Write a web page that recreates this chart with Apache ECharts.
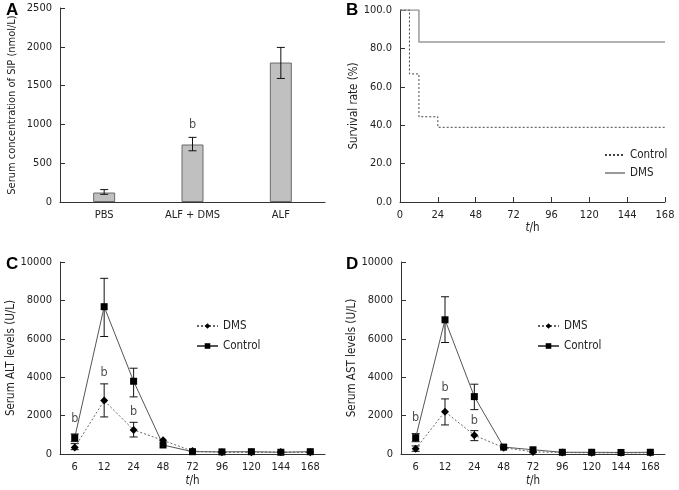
<!DOCTYPE html>
<html><head><meta charset="utf-8">
<script src="https://cdn.jsdelivr.net/npm/echarts@6/dist/echarts.min.js"></script>
<style>html,body{margin:0;padding:0;background:#fff}#c{width:679px;height:490px}</style>
</head><body><div id="c"></div>
<script>
// ---- Panel A data ----
const aCategories = ['PBS', 'ALF + DMS', 'ALF'];
const aValues = [122, 741, 1797];
const aErrLow = [99, 660, 1592];
const aErrHigh = [160, 833, 1992];
const aSigLabelPos = [[1, 990]];
// ---- Panel B data (Kaplan-Meier steps) ----
const bTicks = [0, 24, 48, 72, 96, 120, 144, 168];
const bControl = [[0, 100], [6, 66.7], [12, 44.4], [24, 38.9], [168, 38.9]];
const bDMS = [[0, 100], [12, 83.3], [168, 83.3]];
// ---- Panel C/D shared ----
const timeCats = ['6', '12', '24', '48', '72', '96', '120', '144', '168'];
// ---- Panel C (ALT) ----
const altDMS = [345, 2782, 1252, 710, 150, 90, 90, 100, 90];
const altDMSLow = [225, 1931, 887, null, null, null, null, null, null];
const altDMSHigh = [540, 3653, 1650, null, null, null, null, null, null];
const altCtrl = [850, 7672, 3789, 470, 120, 110, 120, 90, 120];
const altCtrlLow = [645, 6120, 2975, null, null, null, null, null, null];
const altCtrlHigh = [1044, 9150, 4468, null, null, null, null, null, null];
const altSigPos = [[0, 1842], [1, 4227], [2, 2223]];
// ---- Panel D (AST) ----
const astDMS = [277, 2207, 976, 330, 110, 80, 60, 60, 60];
const astDMSLow = [140, 1513, 695, null, null, null, null, null, null];
const astDMSHigh = [420, 2869, 1217, null, null, null, null, null, null];
const astCtrl = [850, 6990, 2989, 360, 220, 90, 90, 80, 90];
const astCtrlLow = [640, 5806, 2311, null, null, null, null, null, null];
const astCtrlHigh = [1060, 8190, 3636, null, null, null, null, null, null];
const astSigPos = [[0, 1862], [1, 3427], [2, 1737]];

const FONT = '"DejaVu Sans Condensed", "DejaVu Sans", sans-serif';
const TXT = '#222';
const AX = '#333';

function errData(low, high) {
  const out = [];
  for (let i = 0; i < low.length; i++) if (low[i] != null) out.push([i, low[i], high[i]]);
  return out;
}
function errRender(params, api) {
  const x = api.value(0);
  const p1 = api.coord([x, api.value(2)]);
  const p2 = api.coord([x, api.value(1)]);
  const w = 4;
  const st = { stroke: '#111', lineWidth: 1 };
  return { type: 'group', children: [
    { type: 'line', shape: { x1: p1[0], y1: p1[1], x2: p2[0], y2: p2[1] }, style: st },
    { type: 'line', shape: { x1: p1[0] - w, y1: p1[1], x2: p1[0] + w, y2: p1[1] }, style: st },
    { type: 'line', shape: { x1: p2[0] - w, y1: p2[1], x2: p2[0] + w, y2: p2[1] }, style: st }
  ]};
}
function errSeries(idx, low, high, z) {
  return { type: 'custom', xAxisIndex: idx, yAxisIndex: idx, renderItem: errRender,
    encode: { x: 0, y: [1, 2] }, data: errData(low, high), z: z || 3, silent: true };
}
function sigSeries(idx, pos) {
  return { type: 'scatter', xAxisIndex: idx, yAxisIndex: idx, symbolSize: 0, data: pos, silent: true,
    label: { show: true, position: 'inside', formatter: 'b', color: TXT, fontFamily: FONT, fontSize: 12.5 } };
}
const plain = v => String(v);
const axLine = { lineStyle: { color: AX, width: 1 } };
const axTick = { inside: true, length: 5, lineStyle: { color: AX } };
const axLabel = { color: TXT, fontFamily: FONT, fontSize: 11 };
const numLabel = Object.assign({ formatter: plain }, axLabel);
const nameStyle = { color: TXT, fontFamily: FONT, fontSize: 11.5 };
const nameStyleA = { color: TXT, fontFamily: FONT, fontSize: 11 };
const tName = '{i|t}/h';
const tNameStyle = { color: TXT, fontFamily: FONT, fontSize: 11.5, rich: { i: { fontStyle: 'italic', color: TXT, fontFamily: FONT, fontSize: 11.5 } } };

const chart = echarts.init(document.getElementById('c'), null, { renderer: 'canvas' });
const titleStyle = { fontFamily: '"Liberation Sans", Arial, sans-serif', fontSize: 17, fontWeight: 'bold', color: '#000' };
const legText = { color: TXT, fontFamily: FONT, fontSize: 11.5 };
chart.setOption({
  animation: false,
  backgroundColor: '#fff',
  title: [
    { text: 'A', left: 6, top: 2, textStyle: titleStyle, padding: 0 },
    { text: 'B', left: 346, top: 2, textStyle: titleStyle, padding: 0 },
    { text: 'C', left: 6, top: 256, textStyle: titleStyle, padding: 0 },
    { text: 'D', left: 346, top: 256, textStyle: titleStyle, padding: 0 }
  ],
  grid: [
    { left: 60, top: 8, width: 265, height: 194 },
    { left: 400, top: 10, width: 265, height: 192 },
    { left: 60, top: 262, width: 265, height: 192 },
    { left: 401, top: 262, width: 264, height: 192 }
  ],
  legend: [
    { data: ['B-Control', 'B-DMS'], orient: 'vertical', left: 604, top: 149, itemWidth: 20, itemHeight: 10, itemGap: 6,
      itemStyle: { opacity: 0 }, formatter: n => n.replace('B-', ''), textStyle: legText, padding: 0 },
    { data: ['DMS', 'Control'], orient: 'vertical', left: 196, top: 320, itemWidth: 21, itemHeight: 7, itemGap: 8,
      textStyle: legText, padding: 0 },
    { data: ['DMS', 'Control'], orient: 'vertical', left: 537, top: 320, itemWidth: 21, itemHeight: 7, itemGap: 8,
      textStyle: legText, padding: 0 }
  ],
  xAxis: [
    { gridIndex: 0, type: 'category', data: aCategories, axisLine: axLine, axisTick: axTick, axisLabel: axLabel },
    { gridIndex: 1, type: 'value', min: 0, max: 168, interval: 24, axisLine: axLine, axisTick: axTick,
      axisLabel: Object.assign({ customValues: bTicks }, numLabel), splitLine: { show: false },
      name: tName, nameLocation: 'middle', nameGap: 15, nameTextStyle: tNameStyle },
    { gridIndex: 2, type: 'category', data: timeCats, axisLine: axLine, axisTick: axTick, axisLabel: axLabel,
      name: tName, nameLocation: 'middle', nameGap: 21, nameTextStyle: tNameStyle },
    { gridIndex: 3, type: 'category', data: timeCats, axisLine: axLine, axisTick: axTick, axisLabel: axLabel,
      name: tName, nameLocation: 'middle', nameGap: 21, nameTextStyle: tNameStyle }
  ],
  yAxis: [
    { gridIndex: 0, type: 'value', min: 0, max: 2500, interval: 500, axisLine: { show: true, lineStyle: { color: AX } },
      axisTick: Object.assign({ show: true }, axTick), axisLabel: numLabel, splitLine: { show: false },
      name: 'Serum concentration of SIP (nmol/L)', nameLocation: 'middle', nameGap: 42, nameTextStyle: nameStyleA },
    { gridIndex: 1, type: 'value', min: 0, max: 100, interval: 20, axisLine: { show: true, lineStyle: { color: AX } },
      axisTick: Object.assign({ show: true }, axTick), axisLabel: Object.assign({}, axLabel, { formatter: v => v.toFixed(1) }),
      splitLine: { show: false }, name: 'Survival rate (%)', nameLocation: 'middle', nameGap: 38, nameTextStyle: nameStyle },
    { gridIndex: 2, type: 'value', min: 0, max: 10000, interval: 2000, axisLine: { show: true, lineStyle: { color: AX } },
      axisTick: Object.assign({ show: true }, axTick), axisLabel: numLabel, splitLine: { show: false },
      name: 'Serum ALT levels (U/L)', nameLocation: 'middle', nameGap: 42, nameTextStyle: nameStyle },
    { gridIndex: 3, type: 'value', min: 0, max: 10000, interval: 2000, axisLine: { show: true, lineStyle: { color: AX } },
      axisTick: Object.assign({ show: true }, axTick), axisLabel: numLabel, splitLine: { show: false },
      name: 'Serum AST levels (U/L)', nameLocation: 'middle', nameGap: 42, nameTextStyle: nameStyle }
  ],
  series: [
    // Panel A
    { type: 'bar', xAxisIndex: 0, yAxisIndex: 0, data: aValues, barWidth: 22,
      itemStyle: { color: '#c0c0c0', borderColor: '#6a6a6a', borderWidth: 1 }, silent: true },
    errSeries(0, aErrLow, aErrHigh, 4),
    sigSeries(0, aSigLabelPos),
    // Panel B
    { name: 'B-DMS', type: 'line', xAxisIndex: 1, yAxisIndex: 1, step: 'end', data: bDMS, symbol: 'none',
      lineStyle: { color: '#999', width: 1.5 }, itemStyle: { color: '#999' }, z: 2 },
    { name: 'B-Control', type: 'line', xAxisIndex: 1, yAxisIndex: 1, step: 'end', data: bControl, symbol: 'none',
      lineStyle: { color: '#444', width: 1, type: [2, 2] }, itemStyle: { color: '#444' }, z: 3 },
    // Panel C
    errSeries(2, altCtrlLow, altCtrlHigh),
    errSeries(2, altDMSLow, altDMSHigh),
    { name: 'DMS', type: 'line', xAxisIndex: 2, yAxisIndex: 2, data: altDMS, symbol: 'diamond', symbolSize: 8,
      lineStyle: { color: '#666', width: 1, type: [2, 2] }, itemStyle: { color: '#000' }, z: 5 },
    { name: 'Control', type: 'line', xAxisIndex: 2, yAxisIndex: 2, data: altCtrl, symbol: 'rect', symbolSize: 7,
      lineStyle: { color: '#555', width: 1 }, itemStyle: { color: '#000' }, z: 5 },
    sigSeries(2, altSigPos),
    // Panel D
    errSeries(3, astCtrlLow, astCtrlHigh),
    errSeries(3, astDMSLow, astDMSHigh),
    { name: 'DMS', type: 'line', xAxisIndex: 3, yAxisIndex: 3, data: astDMS, symbol: 'diamond', symbolSize: 8,
      lineStyle: { color: '#666', width: 1, type: [2, 2] }, itemStyle: { color: '#000' }, z: 5 },
    { name: 'Control', type: 'line', xAxisIndex: 3, yAxisIndex: 3, data: astCtrl, symbol: 'rect', symbolSize: 7,
      lineStyle: { color: '#555', width: 1 }, itemStyle: { color: '#000' }, z: 5 },
    sigSeries(3, astSigPos)
  ]
});
</script></body></html>
